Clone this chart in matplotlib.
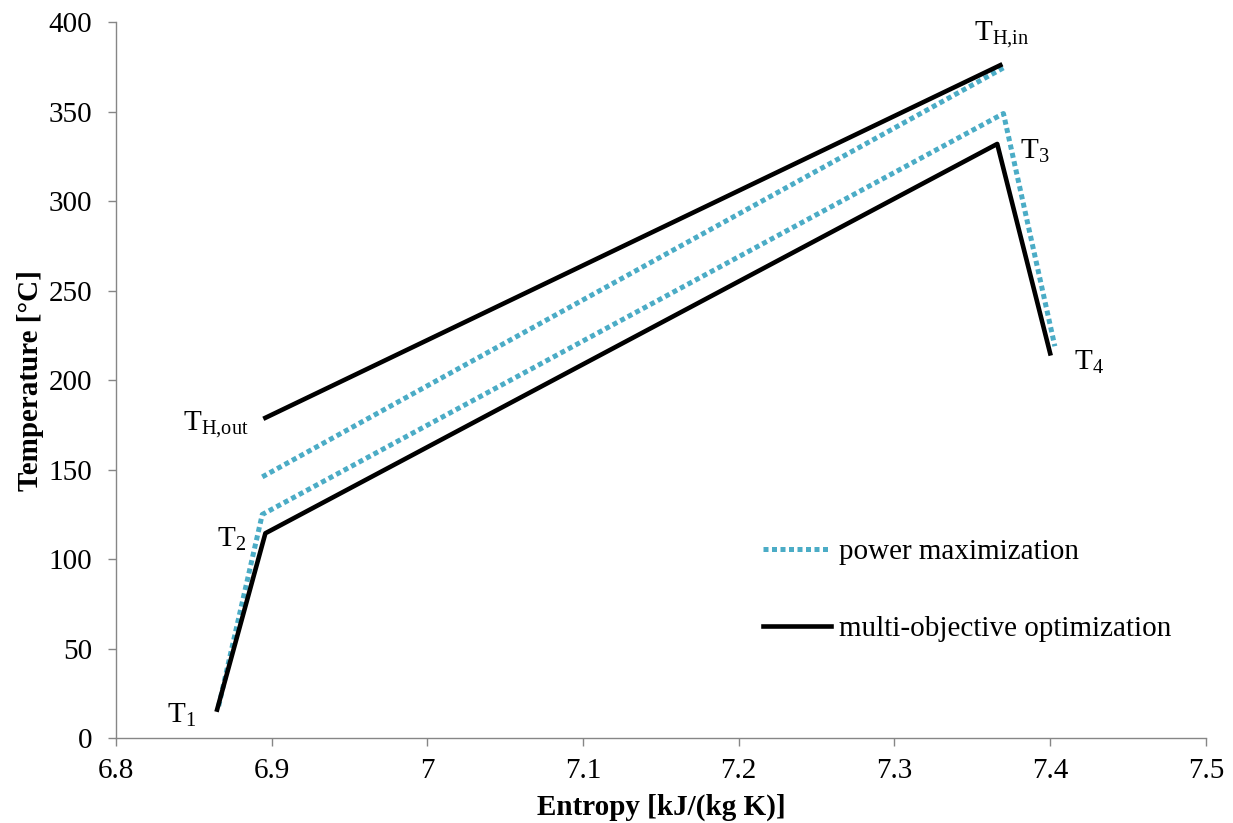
import matplotlib
matplotlib.use("Agg")
import matplotlib.pyplot as plt

plt.rcParams['font.family'] = ['Liberation Serif', 'DejaVu Serif']
plt.rcParams['mathtext.fontset'] = 'custom'
plt.rcParams['mathtext.rm'] = 'Liberation Serif'
plt.rcParams['mathtext.it'] = 'Liberation Serif'

# power maximization: cycle T1-T2-T3-T4 and heat source line
pm_cycle_s = [6.866, 6.894, 7.370, 7.403]
pm_cycle_T = [18, 125, 349, 219]
pm_hot_s = [6.894, 7.371]
pm_hot_T = [146, 375]

# multi-objective optimization
mo_cycle_s = [6.865, 6.896, 7.366, 7.400]
mo_cycle_T = [16, 114.5, 332, 215]
mo_hot_s = [6.896, 7.368]
mo_hot_T = [179, 376]

xticks = [6.8, 6.9, 7.0, 7.1, 7.2, 7.3, 7.4, 7.5]
xticklabels = ['6.8', '6.9', '7', '7.1', '7.2', '7.3', '7.4', '7.5']
yticks = [0, 50, 100, 150, 200, 250, 300, 350, 400]

blue = '#4BACC6'

fig = plt.figure(figsize=(12.33, 8.23), dpi=100)
ax = fig.add_axes([0.094, 0.103, 0.884, 0.870])

dot = (0, (1.0, 0.7))
ax.plot(pm_cycle_s, pm_cycle_T, color=blue, lw=3.6, linestyle=dot,
        dash_capstyle='butt', label='power maximization', zorder=2)
ax.plot(pm_hot_s, pm_hot_T, color=blue, lw=3.6, linestyle=dot,
        dash_capstyle='butt', zorder=2)
ax.plot(mo_cycle_s, mo_cycle_T, color='black', lw=3.3,
        label='multi-objective optimization', zorder=3)
ax.plot(mo_hot_s, mo_hot_T, color='black', lw=3.3, zorder=3)

fs = 21
ax.text(6.842, 13, r'T$_1$', fontsize=fs, ha='center', va='center')
ax.text(6.874, 111, r'T$_2$', fontsize=fs, ha='center', va='center')
ax.text(7.390, 328, r'T$_3$', fontsize=fs, ha='center', va='center')
ax.text(7.425, 210, r'T$_4$', fontsize=fs, ha='center', va='center')
ax.text(6.864, 175, r'T$_{\mathrm{H{,}out}}$', fontsize=fs, ha='center', va='center')
ax.text(7.369, 393, r'T$_{\mathrm{H{,}in}}$', fontsize=fs, ha='center', va='center')

ax.set_xlim(6.8, 7.5)
ax.set_ylim(0, 400)
ax.set_xticks(xticks)
ax.set_xticklabels(xticklabels)
ax.set_yticks(yticks)
ax.tick_params(axis='both', labelsize=fs, color='#868686', length=6, width=1)
ax.tick_params(axis='x', pad=8)
ax.tick_params(axis='y', pad=11)
for sp in ['top', 'right']:
    ax.spines[sp].set_visible(False)
for sp in ['left', 'bottom']:
    ax.spines[sp].set_color('#868686')
    ax.spines[sp].set_linewidth(1)

ax.set_xlabel('Entropy [kJ/(kg K)]', fontsize=fs, fontweight='bold', labelpad=7)
ax.set_ylabel('Temperature [°C]', fontsize=fs, fontweight='bold', labelpad=3)

ax.legend(loc='upper left', bbox_to_anchor=(0.57, 0.315), frameon=False,
          fontsize=fs, handlelength=2.3, handletextpad=0.3, labelspacing=1.72)

fig.savefig('out.png', dpi=100)
